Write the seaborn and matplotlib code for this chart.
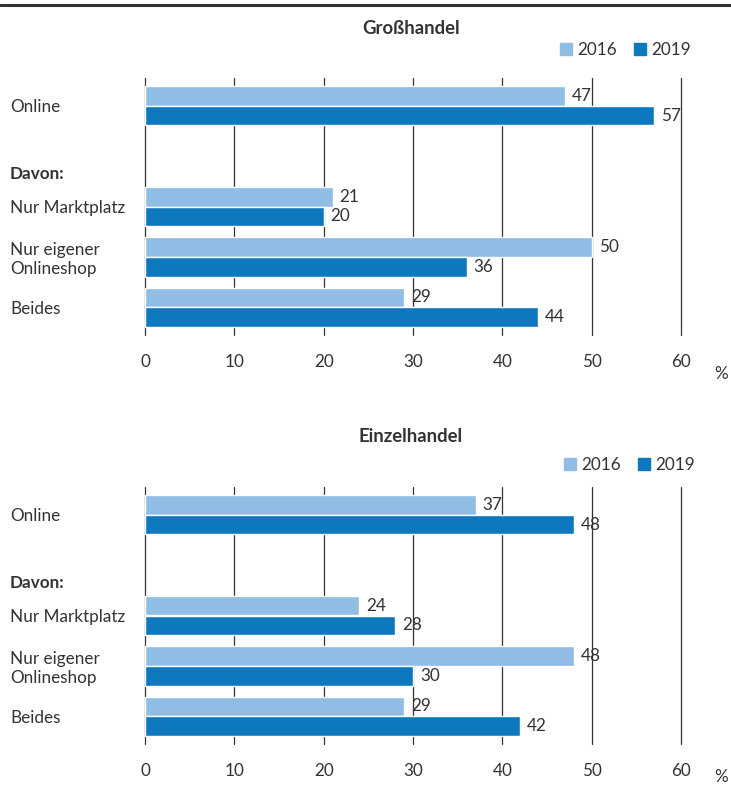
import matplotlib
matplotlib.use("Agg")
import matplotlib.pyplot as plt
import matplotlib.transforms as mtrans
import seaborn as sns
import pandas as pd
from matplotlib.lines import Line2D

categories = ["Online", "Davon:", "Nur Marktplatz", "Nur eigener\nOnlineshop", "Beides"]
data_cats = ["Online", "Nur Marktplatz", "Nur eigener\nOnlineshop", "Beides"]
years = ["2016", "2019"]
gross_2016 = [47, 21, 50, 29]
gross_2019 = [57, 20, 36, 44]
einzel_2016 = [37, 24, 48, 29]
einzel_2019 = [48, 28, 30, 42]
titles = ["Großhandel", "Einzelhandel"]
xticks = [0, 10, 20, 30, 40, 50, 60]

sns.set_theme(style="white")
plt.rcParams['font.family'] = ['Lato', 'DejaVu Sans']
TXT = "#333333"
C16 = "#8fbde3"
C19 = "#0e78be"
FS = 12.3

W, H = 731, 787
fig = plt.figure(figsize=(W / 100, H / 100), dpi=100)

fig.add_artist(Line2D([0, 1], [1 - 5 / H, 1 - 5 / H], color="#333333", lw=2.2,
                      transform=fig.transFigure))

panels = [
    (titles[0], gross_2016, gross_2019, 78, 28, 50, 39, 691),
    (titles[1], einzel_2016, einzel_2019, 487, 436, 465, 33, 695),
]

for title, v16, v19, top_px, title_px, leg_px, pct_off, leg_x in panels:
    df = pd.DataFrame({
        "cat": data_cats * 2,
        "year": [years[0]] * 4 + [years[1]] * 4,
        "val": v16 + v19,
    })
    ax_h = 257
    ax = fig.add_axes([145 / W, 1 - (top_px + ax_h) / H, 536 / W, ax_h / H])
    sns.barplot(data=df, y="cat", x="val", hue="year", order=categories,
                hue_order=years, palette=[C16, C19], width=0.78, saturation=1,
                edgecolor="white", linewidth=1, orient="h", ax=ax, legend=True,
                errorbar=None)
    ax.set_xlim(0, 60)
    ax.set_ylim(4.55, -0.55)
    ax.set_xticks(xticks)
    ax.set_xticklabels([str(t) for t in xticks], fontsize=FS, color=TXT)
    ax.tick_params(axis="x", length=0, pad=14)
    ax.set_axisbelow(True)
    ax.grid(axis="x", color="#333333", lw=0.9)
    ax.grid(axis="y", visible=False)
    for gl in ax.get_xgridlines():
        gl.set_clip_on(False)
    for s in ax.spines.values():
        s.set_visible(False)
    ax.set_xlabel("")
    ax.set_ylabel("")
    labels = [c if c != "Davon:" else "" for c in categories]
    ax.set_yticks(range(len(categories)))
    ax.set_yticklabels(labels, fontsize=FS, color=TXT, ha="left")
    ax.tick_params(axis="y", length=0, pad=(145 - 10) * 0.72)
    ax.text(10 / W, 1.35, "Davon:",
            transform=mtrans.blended_transform_factory(fig.transFigure, ax.transData),
            fontsize=FS, fontweight="bold", color=TXT, va="center", ha="left")
    for cont in ax.containers:
        ax.bar_label(cont, fmt="%d", padding=5, fontsize=FS, color=TXT)
    ax.legend_.remove()
    handles = [plt.Rectangle((0, 0), 1, 1, color=C16), plt.Rectangle((0, 0), 1, 1, color=C19)]
    fig.legend(handles, years, loc="center right", bbox_to_anchor=(leg_x / W, 1 - leg_px / H),
               ncol=2, frameon=False, fontsize=FS, handlelength=0.7, handleheight=0.7,
               handletextpad=0.3, columnspacing=1.0, borderpad=0, borderaxespad=0,
               labelcolor=TXT)
    fig.text(411 / W, 1 - title_px / H, title, ha="center", va="center",
             fontsize=13.3, fontweight="bold", color=TXT)
    fig.text(714 / W, 1 - (top_px + ax_h + pct_off) / H, "%", ha="left", va="center",
             fontsize=FS, color=TXT)

fig.savefig("out.png", dpi=100, facecolor="white")
